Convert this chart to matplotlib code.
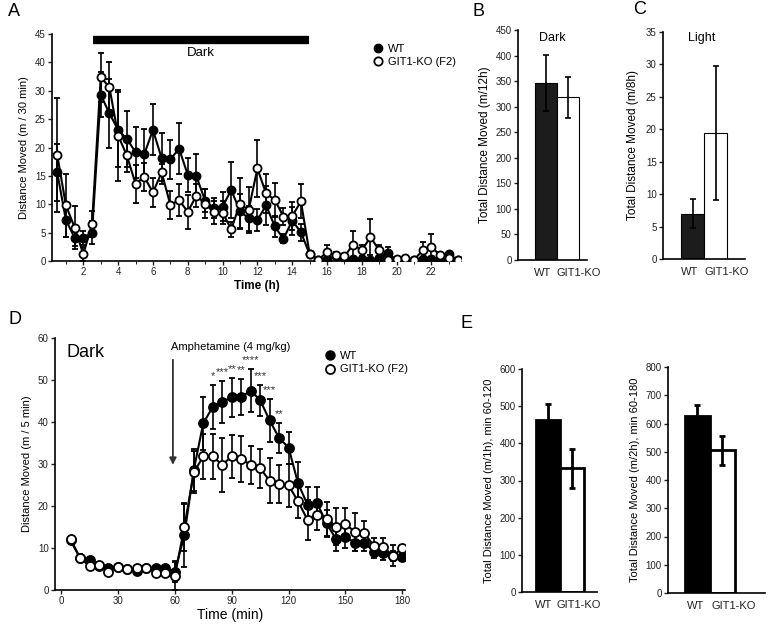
import matplotlib.pyplot as plt
from matplotlib.lines import Line2D
import numpy as np

plt.rcParams['font.family'] = ['Liberation Sans', 'DejaVu Sans']
plt.rcParams['axes.linewidth'] = 1.2

# ---- panel A: 24 h activity, 30-min bins ----
a_time = np.arange(0.5, 24.0, 0.5)
a_wt = [15.6, 7.2, 4.1, 4.1, 5.0, 29.3, 26.0, 23.1, 21.5, 19.2, 18.8, 23.1, 18.1, 17.9,
        19.8, 15.2, 14.9, 10.6, 9.3, 9.6, 12.5, 8.8, 7.5, 7.2, 9.8, 6.1, 3.9, 7.1, 5.1,
        1.2, 0.2, 0.3, 0.8, 0.5, 0.4, 0.4, 0.2, 0.5, 1.4, 0.2, 0.3, 0.2, 0.3, 0.4, 0.4,
        1.2, 0.2]
a_wt_err = [5.0, 3.0, 1.5, 1.2, 2.0, 4.0, 6.0, 6.6, 5.0, 4.5, 4.5, 4.5, 4.5, 3.5, 4.5,
            3.0, 4.0, 2.0, 1.8, 2.5, 5.0, 3.0, 2.2, 2.0, 3.5, 1.8, 0.8, 2.5, 1.5, 0.5,
            0.2, 0.3, 0.3, 0.3, 0.3, 0.3, 0.2, 0.3, 1.0, 0.2, 0.2, 0.2, 0.2, 0.2, 0.3,
            0.4, 0.2]
a_ko = [18.7, 9.8, 5.9, 1.2, 6.5, 32.4, 30.6, 22.1, 18.6, 13.6, 14.8, 12.1, 15.6, 9.9,
        10.7, 8.7, 11.5, 10.1, 8.6, 8.5, 5.6, 10.1, 9.0, 16.3, 11.9, 10.8, 7.8, 7.9,
        10.5, 1.3, 0.2, 1.6, 1.0, 0.8, 2.9, 1.9, 4.2, 1.9, 0.2, 0.4, 0.5, 0.2, 1.9, 2.5,
        1.0, 0.5, 0.1]
a_ko_err = [10.0, 5.5, 3.8, 1.2, 2.3, 4.3, 4.5, 8.0, 3.0, 3.3, 2.5, 2.6, 1.5, 2.5, 2.8,
            3.0, 2.0, 2.5, 2.0, 2.0, 1.3, 4.5, 4.0, 5.0, 3.5, 3.0, 1.5, 2.5, 3.0, 0.5,
            0.2, 1.3, 0.5, 0.5, 2.3, 1.0, 3.2, 1.0, 0.3, 0.3, 0.3, 0.3, 1.5, 2.3, 0.5,
            0.3, 0.2]
a_dark = (2.57, 14.95)

# ---- panels B, C: totals ----
groups = ['WT', 'GIT1-KO']
b_mean = [347, 318]
b_err = [55, 40]
c_mean = [7.0, 19.4]
c_err = [2.2, 10.3]

# ---- panel D: amphetamine, 5-min bins ----
d_time = np.arange(5, 181, 5)
d_wt = [11.8, 7.6, 7.2, 5.8, 5.2, 5.4, 5.0, 4.6, 5.2, 5.2, 5.2, 4.4, 13.0, 28.6, 39.7,
        43.6, 44.8, 45.9, 45.9, 47.5, 45.2, 40.4, 36.2, 33.9, 25.4, 20.3, 20.7, 15.9,
        12.1, 12.6, 11.3, 11.3, 9.1, 8.7, 8.1, 7.9]
d_wt_err = [0.8, 0.8, 0.7, 0.6, 0.6, 0.6, 0.6, 0.6, 0.6, 0.6, 0.6, 2.4, 7.6, 5.0, 6.3,
            5.3, 5.0, 4.6, 4.3, 5.2, 3.7, 5.1, 3.5, 3.8, 5.0, 4.3, 3.9, 3.2, 2.7, 2.5,
            2.0, 2.0, 1.5, 1.5, 1.3, 0.5]
d_ko = [12.1, 7.7, 5.7, 6.0, 4.4, 5.4, 4.9, 5.2, 5.3, 4.1, 4.0, 3.3, 14.9, 28.0, 31.8,
        31.8, 29.8, 31.8, 31.2, 29.8, 29.0, 26.0, 25.3, 24.9, 21.1, 16.7, 17.9, 16.9,
        15.1, 15.7, 13.8, 13.5, 10.5, 10.2, 8.2, 9.9]
d_ko_err = [0.8, 0.8, 0.7, 0.6, 0.6, 0.6, 0.6, 0.6, 0.6, 0.6, 0.6, 3.4, 5.5, 5.0, 5.3,
            5.3, 6.4, 5.2, 5.4, 4.6, 4.6, 5.4, 4.5, 5.1, 4.0, 4.8, 3.5, 4.0, 4.4, 3.8,
            4.5, 3.0, 1.8, 2.3, 2.5, 0.5]
d_sig_time = [80, 85, 90, 95, 100, 105, 110, 115]
d_sig_text = ['*', '***', '**', '**', '****', '***', '***', '**']
d_inject = 59

# ---- panel E: totals after amphetamine ----
e1_mean = [462, 333]
e1_err = [43, 52]
e2_mean = [625, 505]
e2_err = [42, 52]

W, H = 768, 624
fig = plt.figure(figsize=(W / 100, H / 100), dpi=100)


def px_axes(x0, y0, x1, y1):
    # pixel box (left, top, right, bottom) -> figure axes
    return fig.add_axes([x0 / W, 1 - y1 / H, (x1 - x0) / W, (y1 - y0) / H])


def style(ax, fs=7):
    for s in ['top', 'right']:
        ax.spines[s].set_visible(False)
    ax.tick_params(labelsize=fs, length=3, width=1, colors='#222222', pad=1.5)


def series(ax, x, y, err, filled, ms, cap):
    ax.errorbar(x, y, yerr=err, fmt='-o', color='black', lw=1.5, ms=ms,
                mfc='black' if filled else 'white', mec='black', mew=1.3,
                ecolor='black', elinewidth=1.2, capsize=cap, capthick=1.2,
                zorder=3 if filled else 4)


# ---------- A ----------
axA = px_axes(52, 34, 461, 261)
style(axA)
series(axA, a_time, a_wt, a_wt_err, True, 5.8, 2)
series(axA, a_time, a_ko, a_ko_err, False, 5.8, 2)
axA.set_xlim(0.2, 23.7)
axA.set_ylim(0, 40)
axA.set_xticks(range(2, 23, 2))
axA.set_xticks(range(1, 24), minor=True)
axA.tick_params(axis='x', which='minor', length=2)
axA.set_yticks(range(0, 41, 5))
axA.set_yticklabels(['0', '5', '10', '15', '20', '25', '30', '40', '45'])
axA.plot(a_dark, [39, 39], color='black', lw=6, solid_capstyle='butt', clip_on=False)
axA.text(np.mean(a_dark), 36.6, 'Dark', ha='center', va='center', fontsize=9.5)
axA.set_xlabel('Time (h)', fontsize=8.5, fontweight='bold', labelpad=2)
axA.set_ylabel('Distance Moved (m / 30 min)', fontsize=8, labelpad=4)
hA = [Line2D([], [], ls='none', marker='o', ms=6, color='black', mfc='black'),
      Line2D([], [], ls='none', marker='o', ms=6, color='black', mfc='white', mew=1.3)]
axA.legend(hA, ['WT', 'GIT1-KO (F2)'], loc='upper left', bbox_to_anchor=(0.76, 1.0),
           frameon=False, fontsize=8, handlelength=1, handletextpad=0.4, labelspacing=0.25)


def bars(ax, mean, err, ylim, step, lab_x, thick=False):
    style(ax)
    lw = 2 if thick else 0.8
    ax.bar([0, 1], mean, width=1, color=['#1c1c1c' if not thick else 'black', 'white'],
           edgecolor='black', lw=lw, zorder=2)
    ax.errorbar([0, 1], mean, yerr=err, fmt='none', ecolor='black',
                elinewidth=2 if thick else 1.2, capsize=2.5, capthick=2 if thick else 1.2, zorder=3)
    ax.set_ylim(0, ylim)
    ax.set_yticks(np.arange(0, ylim + 1, step))
    ax.set_xticks(lab_x)
    ax.set_xticklabels(groups, fontsize=8)
    ax.tick_params(axis='x', length=0, pad=6)


# ---------- B ----------
axB = px_axes(518, 30, 587, 260)
bars(axB, b_mean, b_err, 450, 50, [-0.17, 1.48])
axB.set_xlim(-1.27, 1.88)
axB.text(0.3, 435, 'Dark', ha='center', va='center', fontsize=9)
axB.set_ylabel('Total Distance Moved (m/12h)', fontsize=8.5, labelpad=3)

# ---------- C ----------
axC = px_axes(663, 32, 745, 259)
bars(axC, c_mean, c_err, 35, 5, [-0.12, 1.47])
axC.set_xlim(-1.28, 2.27)
axC.text(0.4, 34, 'Light', ha='center', va='center', fontsize=9)
axC.set_ylabel('Total Distance Moved (m/8h)', fontsize=8.5, labelpad=5)

# ---------- D ----------
axD = px_axes(55, 338, 405, 590)
style(axD)
series(axD, d_time, d_wt, d_wt_err, True, 6.5, 2.5)
series(axD, d_time, d_ko, d_ko_err, False, 6.5, 2.5)
axD.set_xlim(-3.2, 181.4)
axD.set_ylim(0, 60)
axD.set_xticks(range(0, 181, 30))
axD.set_yticks(range(0, 61, 10))
axD.set_xlabel('Time (min)', fontsize=10, labelpad=1)
axD.set_ylabel('Distance Moved (m / 5 min)', fontsize=8, labelpad=4)
axD.text(3, 56.5, 'Dark', fontsize=13, ha='left', va='center')
axD.text(58, 57.8, 'Amphetamine (4 mg/kg)', fontsize=8, ha='left', va='center')
axD.annotate('', xy=(d_inject, 29.8), xytext=(d_inject, 54.8),
             arrowprops=dict(arrowstyle='-|>', color='#333333', lw=1.3,
                             mutation_scale=10, shrinkA=0, shrinkB=0))
wt_top = dict(zip(d_time, np.add(d_wt, d_wt_err)))
for t, s in zip(d_sig_time, d_sig_text):
    axD.text(t, wt_top[t] + 2.1, s, ha='center', va='center', fontsize=8, color='#333333')
hD = [Line2D([], [], ls='none', marker='o', ms=6.5, color='black', mfc='black'),
      Line2D([], [], ls='none', marker='o', ms=6.5, color='black', mfc='white', mew=1.3)]
axD.legend(hD, ['WT', 'GIT1-KO (F2)'], loc='upper left', bbox_to_anchor=(0.74, 0.99),
           frameon=False, fontsize=8, handlelength=1, handletextpad=0.4, labelspacing=0.35)

# ---------- E ----------
axE1 = px_axes(522, 369, 597, 592)
bars(axE1, e1_mean, e1_err, 600, 100, [-0.22, 1.28], thick=True)
axE1.set_xlim(-1.1, 2.03)
axE1.set_ylabel('Total Distance Moved (m/1h), min 60-120', fontsize=8, labelpad=4)

axE2 = px_axes(668, 367, 765, 593)
bars(axE2, e2_mean, e2_err, 800, 100, [-0.08, 1.45], thick=True)
axE2.set_xlim(-1.17, 2.72)
axE2.set_ylabel('Total Distance Moved (m/2h), min 60-180', fontsize=8, labelpad=4)

# panel letters
for lab, x, y in [('A', 8, 12), ('B', 473, 12), ('C', 633, 10), ('D', 8, 320), ('E', 460, 323)]:
    fig.text(x / W, 1 - y / H, lab, fontsize=13, ha='left', va='center')

plt.savefig('out.png', dpi=100)
